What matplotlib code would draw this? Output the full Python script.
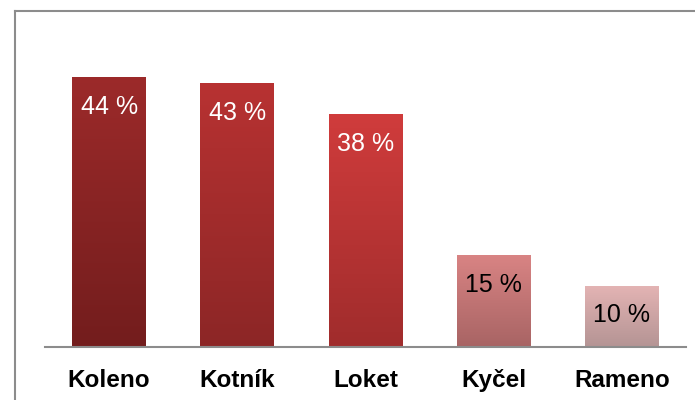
import numpy as np
import matplotlib.pyplot as plt
from matplotlib.lines import Line2D

# data
kategorie = ["Koleno", "Kotník", "Loket", "Kyčel", "Rameno"]
hodnoty = [44, 43, 38, 15, 10]
barva_nahore = ["#9c2a2a", "#b83232", "#d03c3c", "#d98484", "#e4b4b4"]
barva_dole = ["#731d1d", "#8c2626", "#a02c2c", "#a86464", "#b49494"]
barva_textu = ["white", "white", "white", "black", "black"]

plt.rcParams['font.family'] = ['Liberation Sans', 'DejaVu Sans']

fig = plt.figure(figsize=(6.95, 4.0), dpi=100)
ax = fig.add_axes([45 / 695, 53 / 400, 641 / 695, 307 / 400])

x = np.arange(len(kategorie))
bars = ax.bar(x, hodnoty, width=0.577, color="none", edgecolor="none")

def hex2rgb(h):
    h = h.lstrip("#")
    return np.array([int(h[i:i + 2], 16) / 255 for i in (0, 2, 4)])

# gradient fill for each bar
for b, c1, c2 in zip(bars, barva_nahore, barva_dole):
    t = np.linspace(0, 1, 256)[:, None]
    grad = (1 - t) * hex2rgb(c1) + t * hex2rgb(c2)
    img = grad[:, None, :]
    x0 = b.get_x()
    x1 = x0 + b.get_width()
    im = ax.imshow(img, extent=(x0, x1, 0, b.get_height()), aspect="auto",
                   origin="upper", zorder=2)
    im.set_clip_path(b)

for xi, v, tc in zip(x, hodnoty, barva_textu):
    ax.annotate(f"{v} %", (xi, v), xytext=(0, -21.5), textcoords="offset points",
                ha="center", va="center", fontsize=18, color=tc, zorder=3)

ax.set_xlim(-0.5, len(kategorie) - 0.5)
ax.set_ylim(0, 50)
ax.set_xticks(x)
ax.set_xticklabels(kategorie, fontsize=17.5, fontweight="bold")
ax.tick_params(axis="x", length=0, pad=15.5)
ax.set_yticks([])
for s in ["top", "right", "left"]:
    ax.spines[s].set_visible(False)
ax.spines["bottom"].set_color("#8c8c8c")
ax.spines["bottom"].set_linewidth(1.5)

# frame around the chart
fig.add_artist(Line2D([15 / 695, 15 / 695], [0, 389 / 400], color="#8c8c8c", lw=1.5))
fig.add_artist(Line2D([15 / 695, 1], [389 / 400, 389 / 400], color="#8c8c8c", lw=1.5))

fig.savefig("out.png", dpi=100)
